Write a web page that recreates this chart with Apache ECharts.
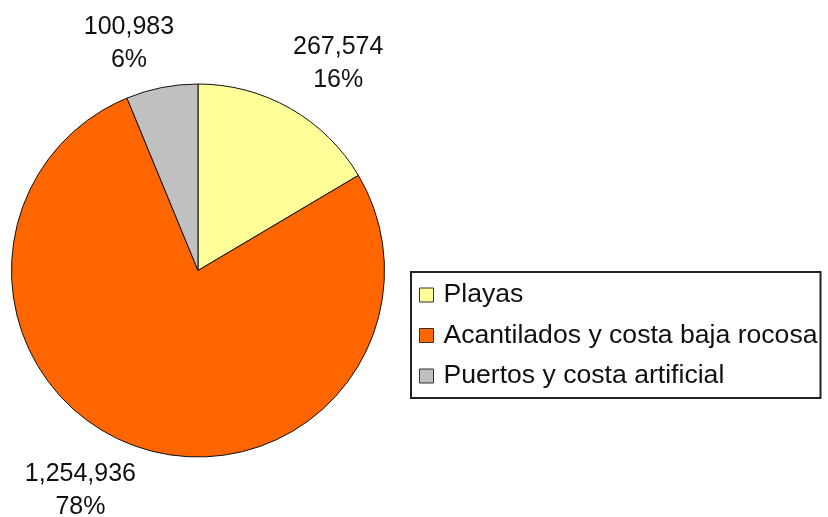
<!DOCTYPE html>
<html>
<head>
<meta charset="utf-8">
<script src="https://cdn.jsdelivr.net/npm/echarts@6/dist/echarts.min.js"></script>
<style>
  html, body { margin: 0; padding: 0; background: #fff; }
  #chart { width: 828px; height: 517px; }
</style>
</head>
<body>
<div id="chart"></div>
<script>
// Coastline length by type
const categories = ['Playas', 'Acantilados y costa baja rocosa', 'Puertos y costa artificial'];
const values = [267574, 1254936, 100983];
const percentLabels = ['16%', '78%', '6%'];
const colors = ['#FFFF99', '#FF6600', '#C0C0C0'];

// small nudges so each centred label block sits clear of the pie edge
const labelNudge = [[28, -19], [-44, 15], [-22, -15]];

const fontFamily = '"Liberation Sans", Arial, sans-serif';

function formatThousands(v) {
  return String(v).replace(/\B(?=(\d{3})+(?!\d))/g, ',');
}

const chart = echarts.init(document.getElementById('chart'), null, { renderer: 'canvas' });

chart.setOption({
  animation: false,
  backgroundColor: '#ffffff',
  color: colors,
  legend: {
    orient: 'vertical',
    left: 411,
    top: 272,
    padding: [8.5, 3, 7.5, 8],
    itemGap: 11.5,
    itemWidth: 14,
    itemHeight: 14,
    icon: 'rect',
    borderColor: '#222',
    borderWidth: 2,
    borderRadius: 0,
    textStyle: {
      fontFamily: fontFamily,
      fontSize: 26.6,
      lineHeight: 29,
      color: '#111',
      padding: [0, 0, 0, 5]
    },
    itemStyle: { borderColor: '#333', borderWidth: 1 },
    data: categories
  },
  series: [{
    type: 'pie',
    center: [198, 270.5],
    radius: [0, 186.5],
    startAngle: 90,
    clockwise: true,
    avoidLabelOverlap: false,
    itemStyle: { borderColor: '#111', borderWidth: 1 },
    emphasis: { disabled: true },
    label: {
      show: true,
      position: 'outside',
      fontFamily: fontFamily,
      fontSize: 25,
      lineHeight: 33,
      color: '#111',
      formatter: p => formatThousands(p.value) + '\n' + percentLabels[p.dataIndex]
    },
    labelLine: { show: false, length: 30, length2: 0 },
    labelLayout: p => ({
      align: 'center',
      dx: labelNudge[p.dataIndex][0],
      dy: labelNudge[p.dataIndex][1]
    }),
    data: categories.map((name, i) => ({ name: name, value: values[i] }))
  }]
});
</script>
</body>
</html>
